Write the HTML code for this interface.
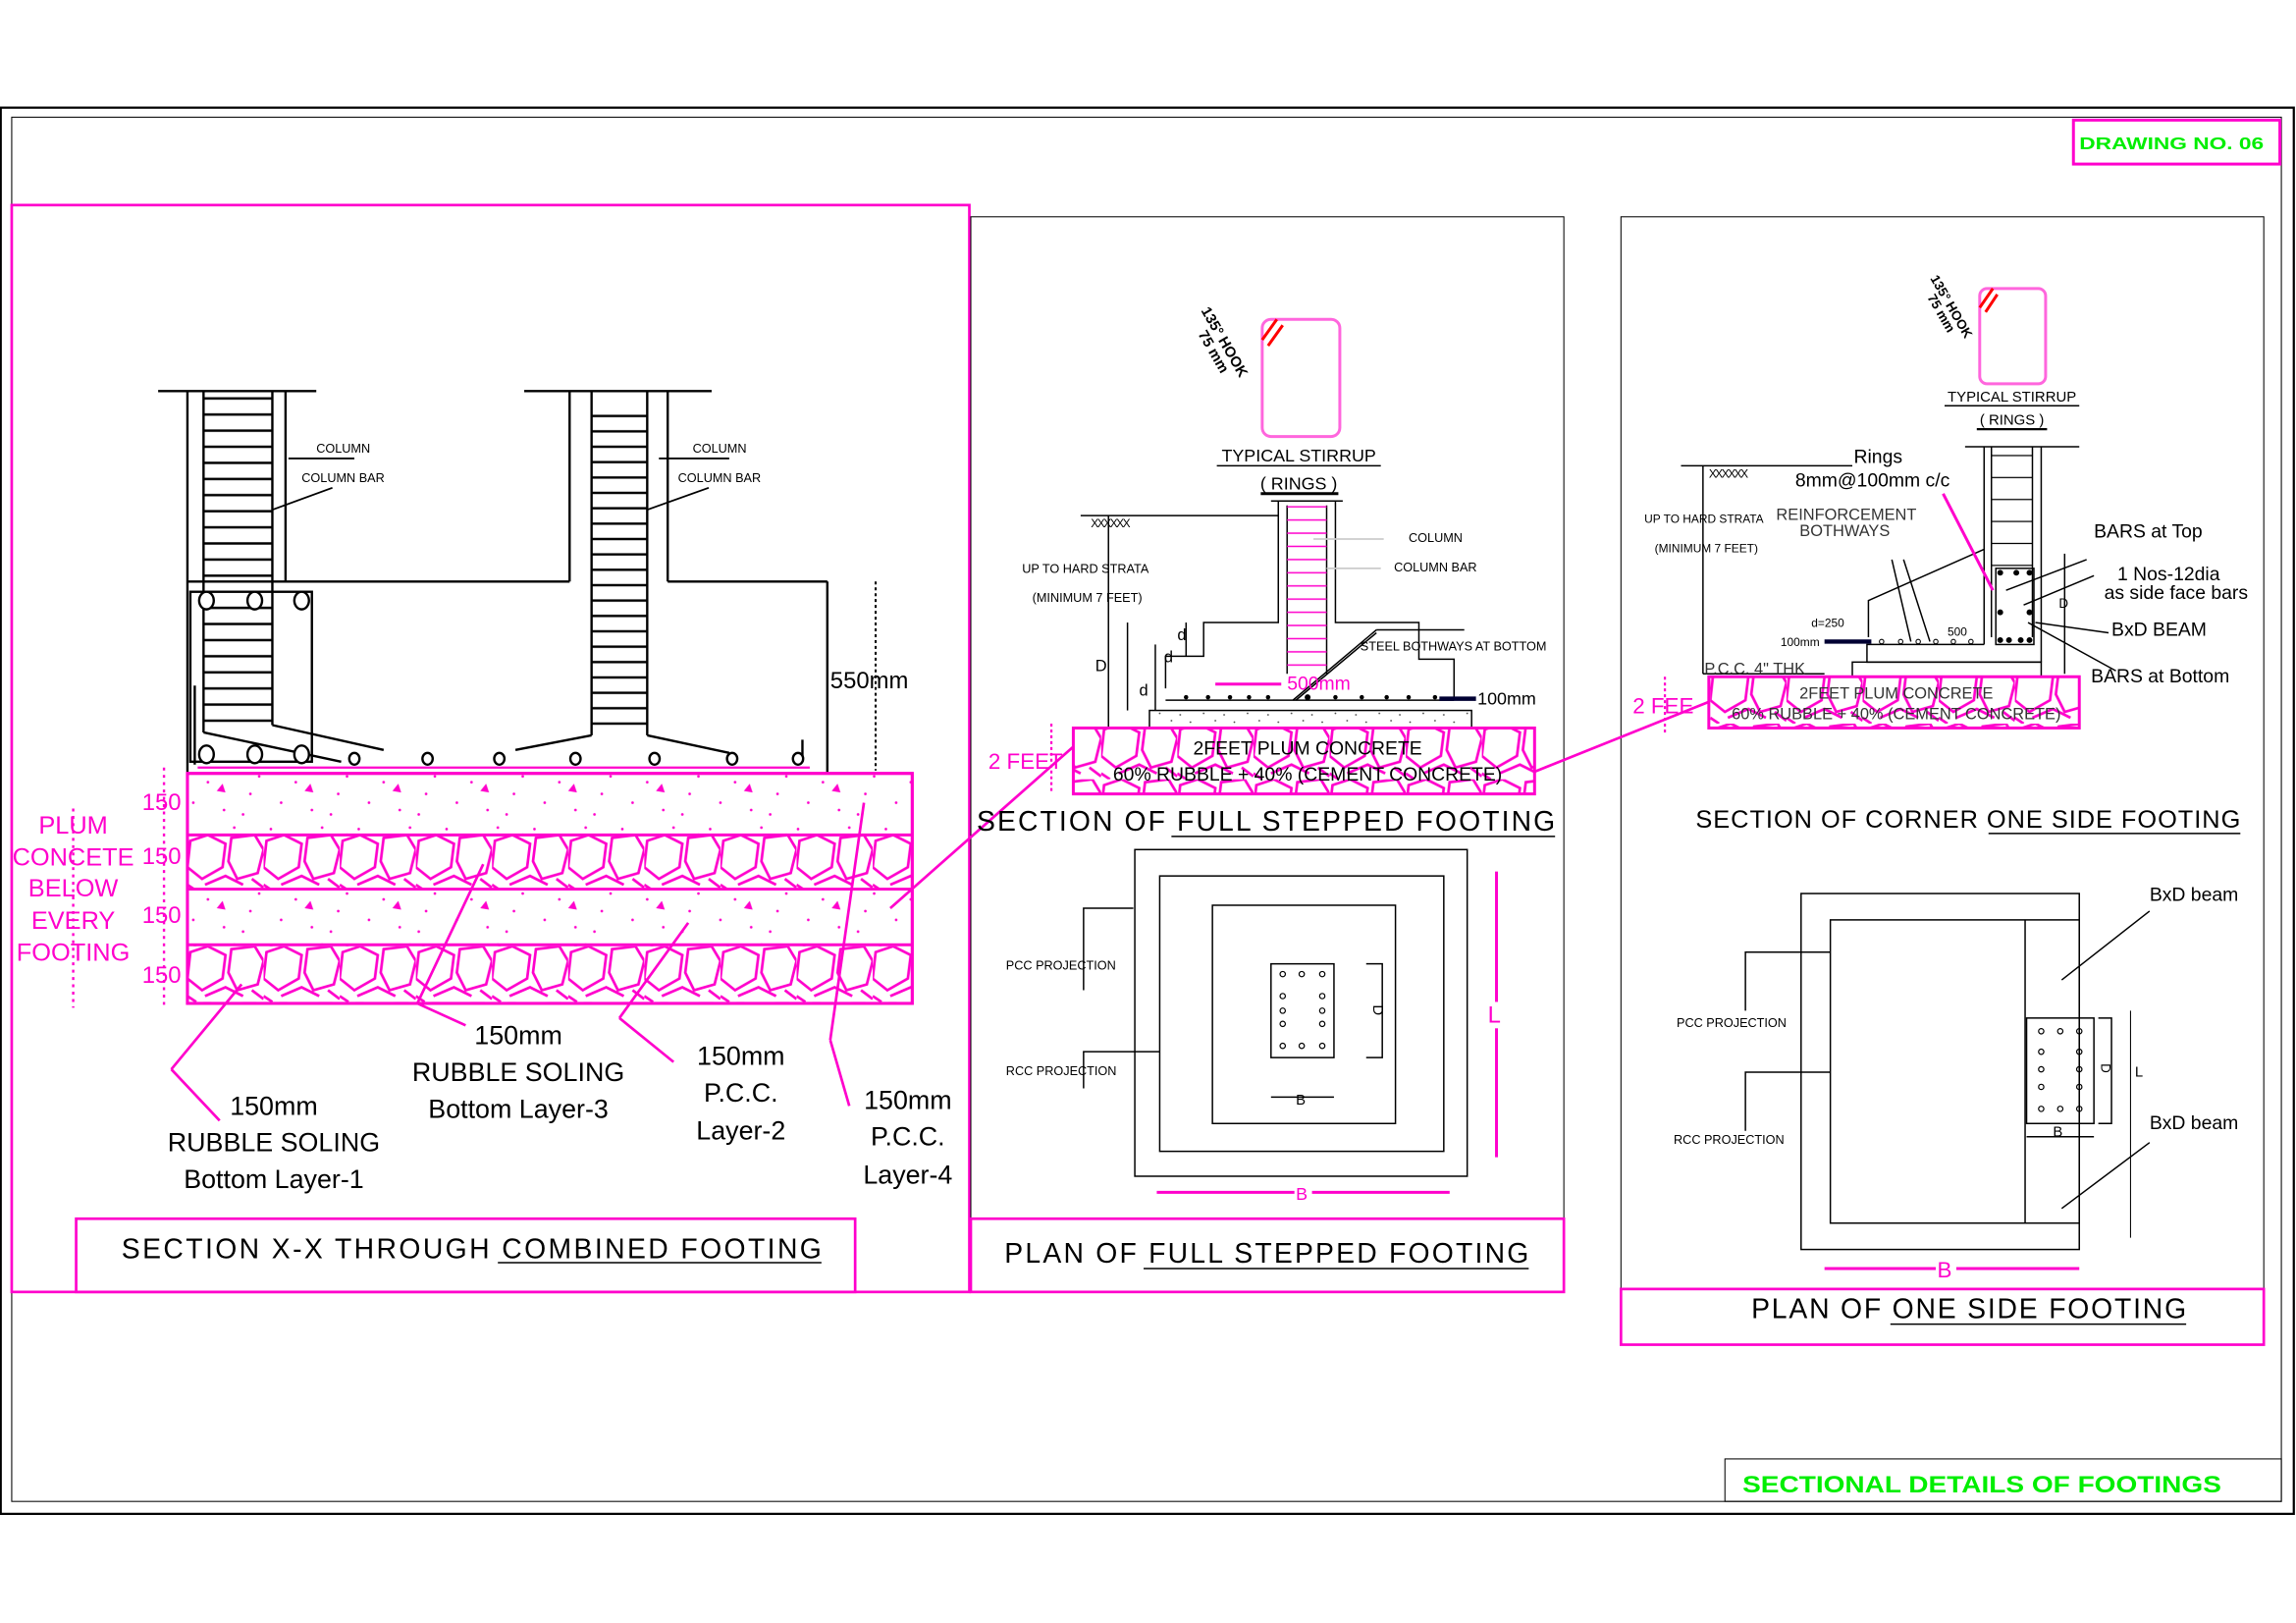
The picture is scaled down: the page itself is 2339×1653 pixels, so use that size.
<!DOCTYPE html>
<html><head><meta charset="utf-8"><style>
html,body{margin:0;padding:0;background:#fff;}
svg{display:block;}
text{font-family:"Liberation Sans",sans-serif;}
</style></head><body>
<svg width="2339" height="1653" viewBox="0 0 1568 1108" preserveAspectRatio="none" xmlns="http://www.w3.org/2000/svg">
<defs>
<pattern id="rub" x="128" y="570" width="52" height="38" patternUnits="userSpaceOnUse">
<path d="M2 4 L14 0 L26 6 L24 22 L10 30 L0 22 Z M30 2 L46 0 L52 10 L48 26 L34 30 L28 18 Z M12 34 L26 28 L38 34 M0 34 L6 38 M44 30 L52 36" fill="none" stroke="#ff00cc" stroke-width="1.8"/>
</pattern>
<pattern id="pcc" x="0" y="0" width="60" height="40" patternUnits="userSpaceOnUse">
<g fill="#ff00cc"><circle cx="5" cy="6" r="0.9"/><circle cx="22" cy="14" r="0.9"/><circle cx="40" cy="5" r="0.9"/><circle cx="51" cy="22" r="0.9"/><circle cx="12" cy="28" r="0.9"/><circle cx="33" cy="33" r="0.9"/><circle cx="46" cy="36" r="0.9"/><path d="M28 20 l4 -5 l2 6 z"/><circle cx="57" cy="10" r="0.9"/></g>
</pattern>
<pattern id="pccg" x="0" y="0" width="30" height="10" patternUnits="userSpaceOnUse">
<g fill="#444"><circle cx="3" cy="3" r="0.6"/><circle cx="12" cy="7" r="0.6"/><circle cx="20" cy="2" r="0.6"/><circle cx="26" cy="8" r="0.6"/></g>
</pattern>
<pattern id="ties1" x="0" y="271" width="20" height="11" patternUnits="userSpaceOnUse"><line x1="0" y1="1" x2="20" y2="1" stroke="#000" stroke-width="1.6"/></pattern>
<pattern id="ties2" x="0" y="283" width="20" height="10.5" patternUnits="userSpaceOnUse"><line x1="0" y1="1" x2="20" y2="1" stroke="#000" stroke-width="1.6"/></pattern>
<pattern id="tiesm" x="0" y="345" width="20" height="9" patternUnits="userSpaceOnUse"><line x1="0" y1="1" x2="20" y2="1" stroke="#ff00cc" stroke-width="1"/></pattern>
<pattern id="tiesr" x="0" y="310" width="20" height="15" patternUnits="userSpaceOnUse"><line x1="0" y1="1" x2="20" y2="1" stroke="#000" stroke-width="0.8"/></pattern>
</defs>

<!-- frame -->
<rect x="0.5" y="73.5" width="1566" height="960" fill="none" stroke="#000" stroke-width="1.5"/>
<rect x="8" y="80" width="1550" height="945" fill="none" stroke="#000" stroke-width="0.7"/>
<rect x="1416" y="82" width="141" height="30" fill="none" stroke="#ff00cc" stroke-width="2"/>
<text x="1420" y="102" font-size="12" font-weight="bold" fill="#00ee00" textLength="126" lengthAdjust="spacingAndGlyphs">DRAWING NO. 06</text>
<rect x="1178" y="996" width="380" height="29" fill="none" stroke="#000" stroke-width="0.7"/>
<text x="1190" y="1019" font-size="16" font-weight="bold" fill="#00ee00" textLength="327" lengthAdjust="spacingAndGlyphs">SECTIONAL DETAILS OF FOOTINGS</text>

<!-- panels -->
<rect x="8" y="140" width="654" height="742" fill="none" stroke="#ff00cc" stroke-width="1.8"/>
<rect x="663" y="148" width="405" height="734" fill="none" stroke="#000" stroke-width="0.7"/>
<rect x="1107" y="148" width="439" height="770" fill="none" stroke="#000" stroke-width="0.7"/>
<rect x="52" y="832" width="532" height="50" fill="none" stroke="#ff00cc" stroke-width="1.8"/>
<rect x="663" y="832" width="405" height="50" fill="none" stroke="#ff00cc" stroke-width="1.8"/>
<rect x="1107" y="880" width="439" height="38" fill="none" stroke="#ff00cc" stroke-width="1.8"/>
<text x="83" y="859" font-size="19" textLength="478" lengthAdjust="spacing">SECTION X-X  THROUGH COMBINED  FOOTING</text>
<line x1="340" y1="862" x2="561" y2="862" stroke="#000"/>
<text x="686" y="862" font-size="19" textLength="358" lengthAdjust="spacing">PLAN OF FULL STEPPED  FOOTING</text>
<line x1="781" y1="866" x2="1044" y2="866" stroke="#000"/>
<text x="1196" y="900" font-size="19" textLength="297" lengthAdjust="spacing">PLAN OF ONE SIDE FOOTING</text>
<line x1="1291" y1="904" x2="1493" y2="904" stroke="#000"/>

<!-- LEFT SECTION -->
<g stroke="#000" stroke-width="1.6" fill="none">
<line x1="108" y1="267" x2="216" y2="267"/>
<line x1="358" y1="267" x2="486" y2="267"/>
<line x1="128" y1="267" x2="128" y2="528"/>
<line x1="195" y1="267" x2="195" y2="397"/>
<line x1="139" y1="267" x2="139" y2="500"/>
<line x1="186" y1="267" x2="186" y2="495"/>
<line x1="389" y1="267" x2="389" y2="397"/>
<line x1="456" y1="267" x2="456" y2="397"/>
<line x1="404" y1="267" x2="404" y2="502"/>
<line x1="442" y1="267" x2="442" y2="502"/>
<line x1="128" y1="397" x2="389" y2="397"/>
<line x1="456" y1="397" x2="565" y2="397"/>
<line x1="565" y1="397" x2="565" y2="528"/>
<rect x="130" y="404" width="83" height="116"/>
<line x1="133" y1="468" x2="133" y2="522"/>
<path d="M139 500 L233 520"/><path d="M186 495 L262 512"/>
<path d="M404 502 L352 512"/><path d="M442 502 L498 514"/>
<line x1="548" y1="505" x2="548" y2="520"/>
<line x1="128" y1="528" x2="623" y2="528"/>
</g>
<rect x="139" y="270" width="47" height="125" fill="url(#ties1)"/>
<rect x="139" y="406" width="47" height="92" fill="url(#ties1)"/>
<rect x="404" y="282" width="38" height="218" fill="url(#ties2)"/>
<line x1="135" y1="524" x2="553" y2="524" stroke="#ff00cc" stroke-width="1.5"/>
<g fill="#fff" stroke="#000" stroke-width="1.6">
<ellipse cx="141" cy="410" rx="5" ry="6"/><ellipse cx="174" cy="410" rx="5" ry="6"/><ellipse cx="206" cy="410" rx="5" ry="6"/>
<ellipse cx="141" cy="515" rx="5" ry="6"/><ellipse cx="174" cy="515" rx="5" ry="6"/><ellipse cx="206" cy="515" rx="5" ry="6"/>
<ellipse cx="242" cy="518" rx="3.5" ry="4"/><ellipse cx="292" cy="518" rx="3.5" ry="4"/><ellipse cx="341" cy="518" rx="3.5" ry="4"/><ellipse cx="393" cy="518" rx="3.5" ry="4"/><ellipse cx="447" cy="518" rx="3.5" ry="4"/><ellipse cx="500" cy="518" rx="3.5" ry="4"/><ellipse cx="545" cy="518" rx="3.5" ry="4"/>
</g>
<g stroke="#000" stroke-width="1.2"><line x1="197" y1="313" x2="242" y2="313"/><line x1="186" y1="348" x2="227" y2="333"/><line x1="450" y1="313" x2="498" y2="313"/><line x1="442" y1="348" x2="484" y2="333"/></g>
<g font-size="8.5"><text x="216" y="309">COLUMN</text><text x="206" y="329">COLUMN BAR</text><text x="473" y="309">COLUMN</text><text x="463" y="329">COLUMN BAR</text></g>
<line x1="598" y1="397" x2="598" y2="526" stroke="#000" stroke-width="1.4" stroke-dasharray="2,2"/>
<text x="567" y="470" font-size="16">550mm</text>

<!-- layers -->
<rect x="128" y="528" width="495" height="157" fill="#fff" stroke="#ff00cc" stroke-width="2"/>
<rect x="128" y="528" width="495" height="42" fill="url(#pcc)"/>
<rect x="128" y="607" width="495" height="38" fill="url(#pcc)"/>
<rect x="128" y="570" width="495" height="37" fill="url(#rub)"/>
<rect x="128" y="645" width="495" height="40" fill="url(#rub)"/>
<g stroke="#ff00cc" stroke-width="2" fill="none">
<line x1="128" y1="570" x2="623" y2="570"/><line x1="128" y1="607" x2="623" y2="607"/><line x1="128" y1="645" x2="623" y2="645"/>
<rect x="128" y="528" width="495" height="157"/>
</g>
<g stroke="#ff00cc" stroke-width="1.6" stroke-dasharray="2,3"><line x1="112" y1="524" x2="112" y2="688"/><line x1="50" y1="552" x2="50" y2="688"/></g>
<g fill="#ff00cc" font-size="16"><text x="97" y="553">150</text><text x="97" y="590">150</text><text x="97" y="630">150</text><text x="97" y="671">150</text></g>
<g fill="#ff00cc" font-size="17" text-anchor="middle"><text x="50" y="569">PLUM</text><text x="50" y="591">CONCETE</text><text x="50" y="612">BELOW</text><text x="50" y="634">EVERY</text><text x="50" y="656">FOOTING</text></g>
<g stroke="#ff00cc" stroke-width="1.8" fill="none">
<path d="M117 730 L150 765 M117 730 L165 672"/>
<path d="M285 685 L318 700 M285 685 L330 590"/>
<path d="M423 695 L460 725 M423 695 L470 630"/>
<path d="M567 710 L580 755 M567 710 L590 548"/>
<line x1="608" y1="620" x2="735" y2="508"/>
<line x1="1040" y1="530" x2="1190" y2="470"/>
</g>
<g font-size="18" text-anchor="middle">
<text x="187" y="761">150mm</text><text x="187" y="786">RUBBLE SOLING</text><text x="187" y="811">Bottom Layer-1</text>
<text x="354" y="713">150mm</text><text x="354" y="738">RUBBLE SOLING</text><text x="354" y="763">Bottom Layer-3</text>
<text x="506" y="727">150mm</text><text x="506" y="752">P.C.C.</text><text x="506" y="778">Layer-2</text>
<text x="620" y="757">150mm</text><text x="620" y="782">P.C.C.</text><text x="620" y="808">Layer-4</text>
</g>

<!-- MIDDLE SECTION -->
<rect x="862" y="218" width="53" height="80" rx="6" fill="none" stroke="#ff66dd" stroke-width="2"/>
<path d="M862 232 L872 218 M866 236 L876 222" stroke="#ff0000" stroke-width="2"/>
<text x="820" y="212" font-size="10" font-weight="bold" transform="rotate(60 820 212)">135° HOOK</text>
<text x="818" y="228" font-size="10" font-weight="bold" transform="rotate(60 818 228)">75 mm</text>
<text x="887" y="315" font-size="12" text-anchor="middle">TYPICAL STIRRUP</text>
<line x1="831" y1="318" x2="943" y2="318" stroke="#000"/>
<text x="887" y="334" font-size="12" text-anchor="middle">( RINGS )</text>
<line x1="861" y1="337" x2="914" y2="337" stroke="#000" stroke-width="2"/>
<g stroke="#000" stroke-width="1" fill="none">
<line x1="868" y1="342" x2="917" y2="342"/>
<line x1="738" y1="352" x2="873" y2="352"/>
<line x1="757" y1="352" x2="757" y2="497"/>
<path d="M873 342 L873 425 L822 425 L822 448 L796 448 L796 470 M912 342 L912 425 L969 425 L969 450 L993 450 L993 478"/>
<line x1="879" y1="345" x2="879" y2="460"/><line x1="906" y1="345" x2="906" y2="460"/>
<line x1="796" y1="478" x2="993" y2="478"/>
<rect x="785" y="485" width="220" height="12"/>
<line x1="770" y1="425" x2="770" y2="485"/><line x1="789" y1="440" x2="789" y2="485"/><line x1="810" y1="425" x2="810" y2="448"/>
<line x1="1000" y1="430" x2="940" y2="430"/><line x1="940" y1="430" x2="883" y2="478"/><line x1="940" y1="432" x2="885" y2="478"/>
</g>
<text x="745" y="360" font-size="8" letter-spacing="-1">XXXXXX</text>
<rect x="879" y="345" width="27" height="115" fill="url(#tiesm)"/>
<rect x="785" y="485" width="220" height="12" fill="url(#pccg)"/>
<g fill="#000"><circle cx="810" cy="476" r="1.5"/><circle cx="825" cy="476" r="1.5"/><circle cx="840" cy="476" r="1.5"/><circle cx="853" cy="476" r="1.5"/><circle cx="866" cy="476" r="1.5"/><circle cx="893" cy="476" r="2"/><circle cx="912" cy="476" r="1.5"/><circle cx="930" cy="476" r="1.5"/><circle cx="947" cy="476" r="1.5"/><circle cx="962" cy="476" r="1.5"/><circle cx="980" cy="476" r="1.5"/></g>
<line x1="983" y1="477" x2="1008" y2="477" stroke="#003" stroke-width="3"/>
<text x="1009" y="481" font-size="12">100mm</text>
<line x1="830" y1="467" x2="875" y2="467" stroke="#ff00cc" stroke-width="2"/>
<text x="879" y="471" font-size="13" fill="#ff00cc">500mm</text>
<g font-size="8.5"><text x="962" y="370">COLUMN</text><text x="952" y="390">COLUMN BAR</text><text x="929" y="444">STEEL BOTHWAYS AT BOTTOM</text><text x="698" y="391">UP TO HARD STRATA</text><text x="705" y="411">(MINIMUM 7 FEET)</text></g>
<g stroke="#ccc" stroke-width="1.2"><line x1="897" y1="368" x2="945" y2="368"/><line x1="906" y1="388" x2="943" y2="388"/></g>
<g font-size="11"><text x="748" y="458">D</text><text x="804" y="437">d</text><text x="795" y="452">d</text><text x="778" y="475">d</text></g>
<rect x="733" y="497" width="315" height="45" fill="#fff"/>
<rect x="733" y="497" width="315" height="45" fill="url(#rub)"/>
<rect x="733" y="497" width="315" height="45" fill="none" stroke="#ff00cc" stroke-width="2"/>
<g font-size="13" text-anchor="middle"><text x="893" y="515">2FEET  PLUM CONCRETE</text><text x="893" y="533">60% RUBBLE  + 40% (CEMENT CONCRETE)</text></g>
<text x="675" y="525" font-size="15" fill="#ff00cc">2 FEET</text>
<line x1="718" y1="494" x2="718" y2="542" stroke="#ff00cc" stroke-dasharray="2,2" stroke-width="1.5"/>
<text x="667" y="567" font-size="19" textLength="395" lengthAdjust="spacing">SECTION OF FULL STEPPED  FOOTING</text>
<line x1="800" y1="571" x2="1062" y2="571" stroke="#000"/>

<!-- middle plan -->
<g stroke="#000" stroke-width="1" fill="none">
<rect x="775" y="580" width="227" height="223"/>
<rect x="792" y="598" width="194" height="188"/>
<rect x="828" y="618" width="125" height="149"/>
<rect x="868" y="658" width="43" height="64"/>
<path d="M774 620 L740 620 L740 676 M792 718 L740 718 L740 743"/>
<path d="M933 658 L944 658 L944 722 L933 722 M868 749 L911 749"/>
</g>
<g fill="none" stroke="#000" stroke-width="0.8"><circle cx="876" cy="665" r="1.8"/><circle cx="889" cy="665" r="1.8"/><circle cx="903" cy="665" r="1.8"/><circle cx="876" cy="680" r="1.8"/><circle cx="903" cy="680" r="1.8"/><circle cx="876" cy="690" r="1.8"/><circle cx="903" cy="690" r="1.8"/><circle cx="876" cy="699" r="1.8"/><circle cx="903" cy="699" r="1.8"/><circle cx="876" cy="714" r="1.8"/><circle cx="889" cy="714" r="1.8"/><circle cx="903" cy="714" r="1.8"/></g>
<g font-size="8.5"><text x="687" y="662">PCC PROJECTION</text><text x="687" y="734">RCC PROJECTION</text></g>
<text x="885" y="754" font-size="10">B</text>
<text x="938" y="686" font-size="10" transform="rotate(90 938 686)">D</text>
<g stroke="#ff00cc" stroke-width="2"><line x1="1022" y1="595" x2="1022" y2="790"/><line x1="790" y1="814" x2="990" y2="814"/></g>
<rect x="1016" y="684" width="12" height="18" fill="#fff"/>
<text x="1016" y="698" font-size="16" fill="#ff00cc">L</text>
<rect x="884" y="808" width="12" height="12" fill="#fff"/>
<text x="885" y="819" font-size="12" fill="#ff00cc">B</text>

<!-- RIGHT SECTION -->
<rect x="1352" y="197" width="45" height="65" rx="5" fill="none" stroke="#ff66dd" stroke-width="2"/>
<path d="M1352 210 L1361 197 M1356 213 L1364 201" stroke="#ff0000" stroke-width="2"/>
<text x="1318" y="190" font-size="9" font-weight="bold" transform="rotate(60 1318 190)">135° HOOK</text>
<text x="1316" y="203" font-size="9" font-weight="bold" transform="rotate(60 1316 203)">75 mm</text>
<text x="1374" y="274" font-size="10" text-anchor="middle">TYPICAL STIRRUP</text>
<line x1="1328" y1="277" x2="1420" y2="277" stroke="#000"/>
<text x="1374" y="290" font-size="10" text-anchor="middle">( RINGS )</text>
<line x1="1350" y1="293" x2="1398" y2="293" stroke="#000" stroke-width="1.5"/>
<g stroke="#000" stroke-width="1" fill="none">
<line x1="1148" y1="318" x2="1265" y2="318"/>
<line x1="1163" y1="318" x2="1163" y2="460"/>
<line x1="1342" y1="305" x2="1420" y2="305"/>
<line x1="1355" y1="305" x2="1355" y2="440"/><line x1="1394" y1="305" x2="1394" y2="452"/>
<line x1="1360" y1="305" x2="1360" y2="435"/><line x1="1388" y1="305" x2="1388" y2="435"/>
<path d="M1355 440 L1275 440 L1275 452 L1394 452"/>
<rect x="1363" y="388" width="26" height="52"/>
<rect x="1265" y="452" width="129" height="10"/>
<path d="M1276 435 L1276 410 L1355 375"/>
<path d="M1305 438 L1292 382 M1318 438 L1300 382"/>
<path d="M1246 460 L1163 460"/>
<line x1="1410" y1="378" x2="1410" y2="460"/>
<path d="M1382 413 L1430 393 M1370 403 L1425 382 M1390 425 L1440 432 M1385 425 L1445 458"/>
</g>
<rect x="1360" y="308" width="28" height="80" fill="url(#tiesr)"/>
<line x1="1327" y1="337" x2="1361" y2="403" stroke="#ff00cc" stroke-width="2"/>
<g fill="#000"><circle cx="1366" cy="391" r="2"/><circle cx="1377" cy="391" r="2"/><circle cx="1386" cy="391" r="2"/><circle cx="1366" cy="418" r="2"/><circle cx="1386" cy="418" r="2"/><circle cx="1366" cy="437" r="2"/><circle cx="1372" cy="437" r="2"/><circle cx="1380" cy="437" r="2"/><circle cx="1386" cy="437" r="2"/></g>
<g fill="none" stroke="#000" stroke-width="0.7"><circle cx="1285" cy="438" r="1.5"/><circle cx="1298" cy="438" r="1.5"/><circle cx="1310" cy="438" r="1.5"/><circle cx="1322" cy="438" r="1.5"/><circle cx="1334" cy="438" r="1.5"/><circle cx="1346" cy="438" r="1.5"/></g>
<line x1="1246" y1="438" x2="1278" y2="438" stroke="#003" stroke-width="3"/>
<text x="1167" y="326" font-size="8" letter-spacing="-1">XXXXXX</text>
<g font-size="8"><text x="1123" y="357">UP TO HARD STRATA</text><text x="1130" y="377">(MINIMUM 7 FEET)</text><text x="1237" y="428">d=250</text><text x="1216" y="441">100mm</text><text x="1330" y="434">500</text></g>
<g font-size="11" fill="#333"><text x="1213" y="355">REINFORCEMENT</text><text x="1229" y="366">BOTHWAYS</text><text x="1164" y="460">P.C.C. 4" THK</text></g>
<g font-size="13"><text x="1266" y="316">Rings</text><text x="1226" y="332">8mm@100mm c/c</text><text x="1430" y="367">BARS at Top</text><text x="1446" y="396">1 Nos-12dia</text><text x="1437" y="409">as side face bars</text><text x="1442" y="434">BxD  BEAM</text><text x="1428" y="466">BARS at Bottom</text></g>
<text x="1406" y="415" font-size="9">D</text>
<rect x="1167" y="462" width="253" height="35" fill="#fff"/>
<rect x="1167" y="462" width="253" height="35" fill="url(#rub)"/>
<rect x="1167" y="462" width="253" height="35" fill="none" stroke="#ff00cc" stroke-width="2"/>
<g font-size="11" text-anchor="middle" fill="#333"><text x="1295" y="477">2FEET  PLUM CONCRETE</text><text x="1295" y="491">60% RUBBLE  + 40% (CEMENT CONCRETE)</text></g>
<text x="1115" y="487" font-size="15" fill="#ff00cc">2 FEE</text>
<line x1="1137" y1="462" x2="1137" y2="500" stroke="#ff00cc" stroke-dasharray="2,2" stroke-width="1.5"/>
<text x="1158" y="565" font-size="17" textLength="372" lengthAdjust="spacing">SECTION OF CORNER  ONE SIDE FOOTING</text>
<line x1="1358" y1="569" x2="1530" y2="569" stroke="#000"/>

<!-- right plan -->
<g stroke="#000" stroke-width="1" fill="none">
<rect x="1230" y="610" width="190" height="243"/>
<rect x="1250" y="628" width="170" height="207"/>
<line x1="1383" y1="628" x2="1383" y2="835"/>
<rect x="1384" y="695" width="46" height="72"/>
<path d="M1250 650 L1192 650 L1192 690 M1250 732 L1192 732 L1192 772"/>
<path d="M1433 695 L1442 695 L1442 767 L1433 767 M1384 776 L1430 776"/>
<path d="M1408 669 L1468 622 M1408 825 L1468 780"/>
</g>
<g fill="none" stroke="#000" stroke-width="0.8"><circle cx="1394" cy="704" r="1.8"/><circle cx="1407" cy="704" r="1.8"/><circle cx="1420" cy="704" r="1.8"/><circle cx="1394" cy="718" r="1.8"/><circle cx="1420" cy="718" r="1.8"/><circle cx="1394" cy="730" r="1.8"/><circle cx="1420" cy="730" r="1.8"/><circle cx="1394" cy="742" r="1.8"/><circle cx="1420" cy="742" r="1.8"/><circle cx="1394" cy="757" r="1.8"/><circle cx="1407" cy="757" r="1.8"/><circle cx="1420" cy="757" r="1.8"/></g>
<g font-size="8.5"><text x="1145" y="701">PCC PROJECTION</text><text x="1143" y="781">RCC PROJECTION</text></g>
<g font-size="10"><text x="1402" y="776">B</text><text x="1458" y="735">L</text></g>
<text x="1435" y="726" font-size="9" transform="rotate(90 1435 726)">D</text>
<line x1="1455" y1="690" x2="1455" y2="845" stroke="#000" stroke-width="0.7"/>
<g font-size="13"><text x="1468" y="615">BxD beam</text><text x="1468" y="771">BxD beam</text></g>
<line x1="1246" y1="866" x2="1420" y2="866" stroke="#ff00cc" stroke-width="2"/>
<rect x="1322" y="858" width="14" height="16" fill="#fff"/>
<text x="1323" y="872" font-size="15" fill="#ff00cc">B</text>
</svg>
</body></html>
